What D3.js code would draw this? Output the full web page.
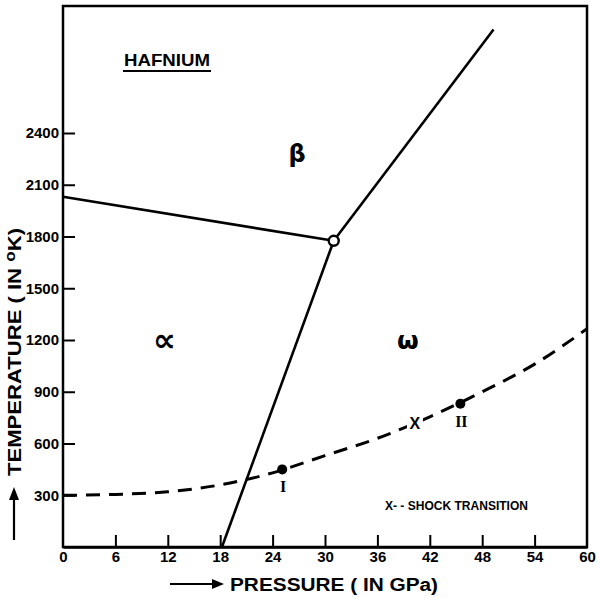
<!DOCTYPE html>
<html><head><meta charset="utf-8">
<script src="https://cdn.jsdelivr.net/npm/d3@7"></script>
<style>
body{margin:0;background:#fff;}
text{font-weight:bold;fill:#000;}
</style></head>
<body><svg id="c" width="600" height="598"></svg>
<script>
// ---- data ----
const xTickValues = [0, 6, 12, 18, 24, 30, 36, 42, 48, 54, 60];
const yTickValues = [300, 600, 900, 1200, 1500, 1800, 2100, 2400];
// phase boundaries [pressure GPa, temperature K]
const alphaBeta = [[0, 2030], [31, 1775]];
const alphaOmega = [[31, 1775], [18.2, 0]];
const betaOmega = [[31, 1775], [49.3, 3000]];
const triplePoint = [31, 1775];
// shock transition (dashed) curve
const shockP = [0, 6, 12, 18, 24, 30, 36, 42, 48, 54, 60];
const shockT = [300, 305, 320, 360, 430, 530, 630, 755, 900, 1060, 1265];
const shockPoints = [{p: 25.1, t: 450, label: "I"}, {p: 45.5, t: 830, label: "II"}];
const shockX = [40.3, 719];
const phaseLabels = [{p: 26.8, t: 2280, s: "β", size: 24}, {p: 11.6, t: 1200, s: "∝", size: 32}, {p: 39.5, t: 1200, s: "ω", size: 25}];

const SANS = "'Liberation Sans', Arial, sans-serif";

// ---- scales ----
const svg = d3.select("#c");
const x = d3.scaleLinear().domain([0, 60]).range([63, 587]);
const y = d3.scaleLinear().domain([0, 2400]).range([547, 133]);
const yTop = y.invert(6);

// frame
svg.append("rect").attr("x", x(0)).attr("y", y(yTop))
  .attr("width", x(60) - x(0)).attr("height", y(0) - y(yTop))
  .attr("fill", "none").attr("stroke", "#000").attr("stroke-width", 2.5);

// axes
const xAxis = d3.axisBottom(x).tickValues(xTickValues).tickSizeInner(-12).tickSizeOuter(0).tickPadding(4).tickFormat(d3.format("d"));
const gx = svg.append("g").attr("transform", `translate(0,${y(0)})`).call(xAxis);
gx.select(".domain").attr("stroke-width", 2.5);
gx.selectAll(".tick line").attr("stroke-width", 2).filter(d => d === 0 || d === 60).remove();
gx.selectAll(".tick text").style("font-size", "15px").style("font-family", SANS);

const yAxis = d3.axisLeft(y).tickValues(yTickValues).tickSizeInner(-12).tickSizeOuter(0).tickPadding(4).tickFormat(d3.format("d"));
const gy = svg.append("g").attr("transform", `translate(${x(0)},0)`).call(yAxis);
gy.select(".domain").remove();
gy.selectAll(".tick line").attr("stroke-width", 2);
gy.selectAll(".tick text").style("font-size", "15px").style("font-family", SANS);

// phase boundaries
const line = d3.line().x(d => x(d[0])).y(d => y(d[1]));
[alphaBeta, alphaOmega, betaOmega].forEach(seg => {
  svg.append("path").attr("d", line(seg)).attr("fill", "none")
    .attr("stroke", "#000").attr("stroke-width", 2.6);
});
svg.append("circle").attr("cx", x(triplePoint[0])).attr("cy", y(triplePoint[1])).attr("r", 5)
  .attr("fill", "#fff").attr("stroke", "#000").attr("stroke-width", 2.4);

// shock curve
const shock = shockP.map((p, i) => [p, shockT[i]]);
svg.append("path").attr("d", d3.line().curve(d3.curveMonotoneX).x(d => x(d[0])).y(d => y(d[1]))(shock))
  .attr("fill", "none").attr("stroke", "#000").attr("stroke-width", 3)
  .attr("stroke-dasharray", "14,9");
shockPoints.forEach(pt => {
  svg.append("circle").attr("cx", x(pt.p)).attr("cy", y(pt.t)).attr("r", 5).attr("fill", "#000");
  svg.append("text").attr("x", x(pt.p) + 1).attr("y", y(pt.t) + 23).attr("text-anchor", "middle")
    .style("font-family", "'Liberation Serif', serif").style("font-size", "16px").text(pt.label);
});
svg.append("rect").attr("x", x(shockX[0]) - 8).attr("y", y(shockX[1]) - 8).attr("width", 16).attr("height", 16).attr("fill", "#fff");
svg.append("text").attr("x", x(shockX[0])).attr("y", y(shockX[1]) + 6).attr("text-anchor", "middle")
  .style("font-family", SANS).style("font-size", "16px").text("X");

// phase labels
phaseLabels.forEach(l => {
  svg.append("text").attr("x", x(l.p)).attr("y", y(l.t)).attr("text-anchor", "middle")
    .attr("dominant-baseline", "central").style("font-family", "'DejaVu Sans', sans-serif").style("font-size", l.size + "px").text(l.s);
});

// title
svg.append("text").attr("x", 124).attr("y", 66).style("font-family", SANS).style("font-size", "17px").attr("textLength", 86)
  .attr("lengthAdjust", "spacingAndGlyphs").text("HAFNIUM");
svg.append("line").attr("x1", 123).attr("x2", 211).attr("y1", 71).attr("y2", 71)
  .attr("stroke", "#000").attr("stroke-width", 2);

// legend note
svg.append("text").attr("x", 385).attr("y", 510).style("font-family", SANS).style("font-size", "13px").attr("textLength", 143)
  .attr("lengthAdjust", "spacingAndGlyphs").text("X- - SHOCK TRANSITION");

// x-axis title
svg.append("text").attr("x", 230).attr("y", 591).style("font-family", SANS).style("font-size", "18px").attr("textLength", 208)
  .attr("lengthAdjust", "spacingAndGlyphs").text("PRESSURE ( IN GPa)");
svg.append("line").attr("x1", 170).attr("x2", 214).attr("y1", 584).attr("y2", 584).attr("stroke", "#000").attr("stroke-width", 2.2);
svg.append("path").attr("d", "M224,584 L212,579 L212,589 Z").attr("fill", "#000");

// y-axis title
const yl = svg.append("text").attr("transform", "translate(21,476) rotate(-90)").style("font-family", SANS).style("font-size", "18px")
  .attr("textLength", 248).attr("lengthAdjust", "spacingAndGlyphs");
yl.append("tspan").text("TEMPERATURE ( IN ");
yl.append("tspan").attr("dy", -6).style("font-size", "14px").text("o");
yl.append("tspan").attr("dy", 6).text("K)");
svg.append("line").attr("x1", 14).attr("x2", 14).attr("y1", 540).attr("y2", 498).attr("stroke", "#000").attr("stroke-width", 2.2);
svg.append("path").attr("d", "M14,487 L9,500 L19,500 Z").attr("fill", "#000");
</script></body></html>
